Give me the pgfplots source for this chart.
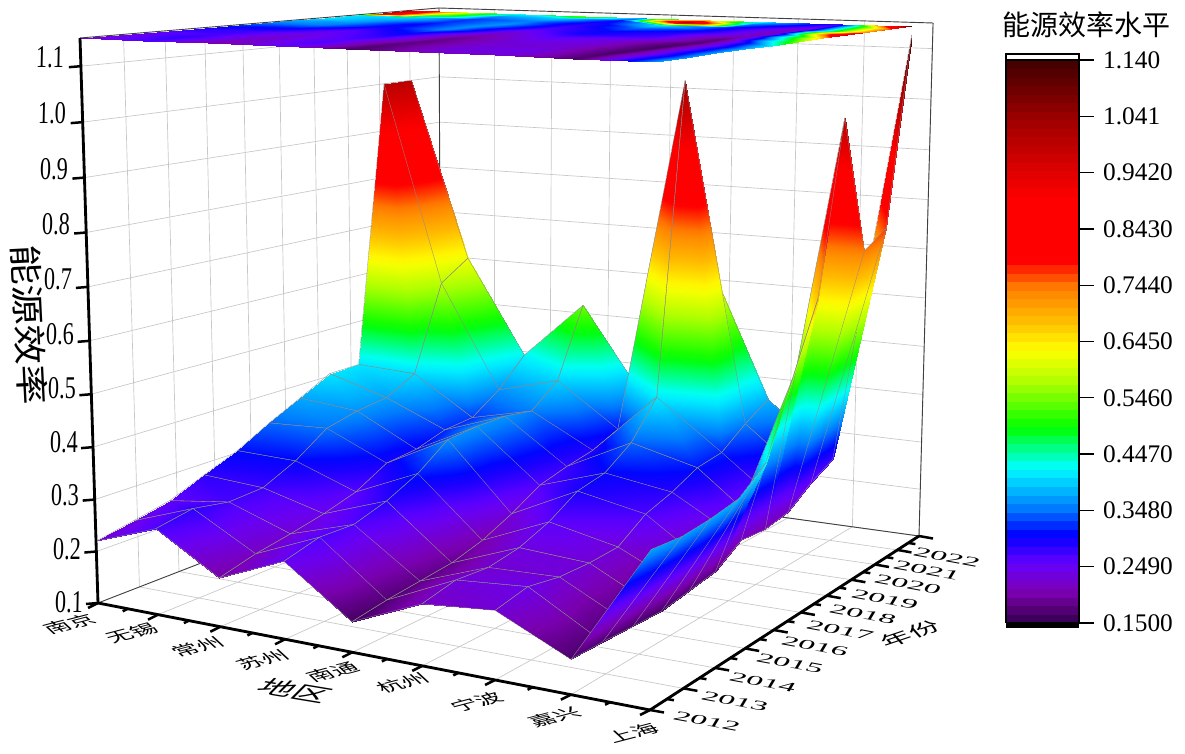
\documentclass[border=0pt]{standalone}
\usepackage{pgfplots}
\usepackage{pgfplotstable}
\usepackage{fontspec}
\pgfplotsset{compat=1.18}
\setmainfont{Liberation Serif}
\newfontfamily\cjk{Noto Sans CJK SC}
\tikzset{declare function={
 Df(\u,\v)=1-0.14579*\u+0.23686*\v;
 Dt(\u,\v)=1-0.13786*\u+0.24138*\v;
 Xf(\u,\v)=(457.24*\u+447.46*\v+98)/Df(\u,\v);
 Yf(\u,\v)=(3.49*\u-21.67*\v+603)/Df(\u,\v);
 Xt(\u,\v)=(484.7*\u+464.97*\v+80)/Dt(\u,\v);
 Yt(\u,\v)=(15.45*\u-28.07*\v+38)/Dt(\u,\v);
 Wz(\z)=(\z-0.1)/1.05;
 Sz(\z)=Wz(\z)/(Wz(\z)+(1-Wz(\z))*1.05);
 PX(\u,\v,\z)=Xf(\u,\v)+(Xt(\u,\v)-Xf(\u,\v))*Sz(\z);
 PY(\u,\v,\z)=753-(Yf(\u,\v)+(Yt(\u,\v)-Yf(\u,\v))*Sz(\z));
}}
\pgfplotstableread{
city year eff
0 2022 1.000
1 2022 0.620
2 2022 0.418
3 2022 0.540
4 2022 0.360
5 2022 0.670
6 2022 0.380
7 2022 0.270
8 2022 1.133
0 2021 1.000
1 2021 0.580
2 2021 0.360
3 2021 0.395
4 2021 0.306
5 2021 1.035
6 2021 0.350
7 2021 0.245
8 2021 0.770
0 2020 0.406
1 2020 0.400
2 2020 0.320
3 2020 0.350
4 2020 0.283
5 2020 0.410
6 2020 0.313
7 2020 0.210
8 2020 0.740
0 2019 0.405
1 2019 0.368
2 2019 0.315
3 2019 0.360
4 2019 0.272
5 2019 0.338
6 2019 0.305
7 2019 0.200
8 2019 1.000
0 2018 0.372
1 2018 0.360
2 2018 0.296
3 2018 0.360
4 2018 0.257
5 2018 0.300
6 2018 0.280
7 2018 0.205
8 2018 0.680
0 2017 0.340
1 2017 0.345
2 2017 0.290
3 2017 0.355
4 2017 0.224
5 2017 0.288
6 2017 0.262
7 2017 0.172
8 2017 0.550
0 2016 0.304
1 2016 0.300
2 2016 0.255
3 2016 0.310
4 2016 0.197
5 2016 0.253
6 2016 0.225
7 2016 0.163
8 2016 0.420
0 2015 0.277
1 2015 0.269
2 2015 0.236
3 2015 0.280
4 2015 0.180
5 2015 0.230
6 2015 0.222
7 2015 0.155
8 2015 0.380
0 2014 0.249
1 2014 0.265
2 2014 0.222
3 2014 0.260
4 2014 0.173
5 2014 0.220
6 2014 0.224
7 2014 0.157
8 2014 0.370
0 2013 0.234
1 2013 0.277
2 2013 0.210
3 2013 0.262
4 2013 0.166
5 2013 0.225
6 2013 0.235
7 2013 0.160
8 2013 0.365
0 2012 0.220
1 2012 0.264
2 2012 0.192
3 2012 0.244
4 2012 0.156
5 2012 0.211
6 2012 0.222
7 2012 0.161
8 2012 0.370
}\effdata
\pgfplotsset{
 colormap={originbase}{
  rgb255(15)=(60,0,90)
  rgb255(16)=(75,0,105)
  rgb255(20)=(125,0,180)
  rgb255(25)=(100,0,255)
  rgb255(30)=(0,0,255)
  rgb255(35)=(0,128,255)
  rgb255(42)=(0,255,255)
  rgb255(47)=(0,255,80)
  rgb255(49)=(0,255,0)
  rgb255(57)=(170,255,0)
  rgb255(63)=(255,255,0)
  rgb255(68)=(255,190,0)
  rgb255(74)=(255,128,0)
  rgb255(79)=(255,0,0)
  rgb255(90)=(255,0,0)
  rgb255(104)=(160,0,0)
  rgb255(114)=(70,0,0)
 },
 colormap={bands}{samples of colormap=(66 of originbase)},
 proj/.style={
  table/x expr={PX(\thisrow{city}/8,(\thisrow{year}-2012)*0.0905,\thisrow{eff})},
  table/y expr={PY(\thisrow{city}/8,(\thisrow{year}-2012)*0.0905,\thisrow{eff})},
  table/z expr=0,table/meta=eff,point meta=explicit},
 tripatch/.style={patch,patch type=rectangle,z buffer=default,table/row sep=\\,shader=interp},
 edgepatch/.style={patch,mesh,patch type=line,draw=black!45,line width=0.2pt,z buffer=default,table/row sep=\\},
}
\tikzset{
 gl/.style={draw=black!22,line width=0.4pt},
 thinbox/.style={draw=black!75,line width=0.55pt},
 bold/.style={draw=black,line width=1.7pt},
 tk/.style={draw=black,line width=1.5pt},
}
\newcommand\seg[7]{\draw[#1] (axis cs:{PX(#2,#3,#4)},{PY(#2,#3,#4)},0) -- (axis cs:{PX(#5,#6,#7)},{PY(#5,#6,#7)},0);}
\newcommand\lbl[4]{\begin{scope}[shift={(#1*0.6pt,{(753-#2)*0.6pt})}]\node[transform shape,cm={#3,(0,0)},inner sep=0pt] at (0,0) {#4};\end{scope}}
\newcommand\lblC[3]{\lbl{#1}{#2}{1.15,0.3,-0.6,0.55}{\cjk\fontsize{12.5}{14}\selectfont #3}}
\newcommand\lblY[3]{\lbl{#1}{#2}{1.3,-0.24,0.3,0.5}{\fontsize{15}{16}\selectfont #3}}
\newcommand\lblZ[3]{\lbl{#1}{#2}{0.7,0,0.02,1}{\fontsize{19}{20}\selectfont #3}}
% one strip of the surface: row #1 (0 = 2022), quads of the columns #2..#3
\newcommand\quadsection[3]{%
 \begingroup\let\\\relax
 \gdef\conn{}\gdef\edgs{}%
 \foreach \j in {#2,...,#3}{%
  \pgfmathtruncatemacro\qa{9*#1+\j}%
  \pgfmathtruncatemacro\qb{\qa+1}%
  \pgfmathtruncatemacro\qc{\qa+9}%
  \pgfmathtruncatemacro\qd{\qa+10}%
  \xdef\conn{\conn \qa\space\qb\space\qd\space\qd\\ \qa\space\qd\space\qc\space\qc\\ }%
  \xdef\edgs{\edgs \qa\space\qb\\ \qa\space\qc\\ \qb\space\qd\\ \qc\space\qd\\ }%
 }%
 \xdef\nextplot{\noexpand\addplot3[tripatch,proj,patch table={\conn}] table {\noexpand\effdata};
  \noexpand\addplot3[edgepatch,proj,patch table={\edgs}] table {\noexpand\effdata};}%
 \endgroup\nextplot}
\begin{document}
\begin{tikzpicture}
\useasboundingbox (0,0) rectangle (711pt,451.8pt);
\begin{axis}[
 at={(0,0)},anchor=south west,
 scale only axis,width=711pt,height=451.8pt,
 xmin=0,xmax=1185,ymin=0,ymax=753,zmin=-2,zmax=2,
 view={0}{90},hide axis,clip=false,
 colormap name=bands,
 point meta min=0.15,point meta max=1.14,
]
% walls grid
\pgfplotsinvokeforeach{1,...,10}{
 \seg{gl}{0}{#1/10}{0.1}{0}{#1/10}{1.15}
 \seg{gl}{0}{#1/10}{0.1}{1}{#1/10}{0.1}
}
\pgfplotsinvokeforeach{1,...,8}{
 \seg{gl}{#1/8}{1}{0.1}{#1/8}{1}{1.15}
 \seg{gl}{#1/8}{0}{0.1}{#1/8}{1}{0.1}
}
\pgfplotsinvokeforeach{0.2,0.3,0.4,0.5,0.6,0.7,0.8,0.9,1.0,1.1}{
 \seg{gl}{0}{0}{#1}{0}{1}{#1}
 \seg{gl}{0}{1}{#1}{1}{1}{#1}
}
% box
\seg{thinbox}{0}{0}{1.15}{0}{1}{1.15}
\seg{thinbox}{0}{1}{1.15}{1}{1}{1.15}
\seg{thinbox}{0}{1}{0.1}{0}{1}{1.15}
\seg{thinbox}{1}{1}{0.1}{1}{1}{1.15}
\seg{thinbox}{0}{0}{0.1}{0}{1}{0.1}
\seg{thinbox}{0}{1}{0.1}{1}{1}{0.1}
% projection on the top plane
\addplot3[surf,shader=interp,z buffer=default,mesh/rows=11,mesh/cols=9,point meta=\thisrow{eff}]
 table[x expr={PX(\thisrow{city}/8,(\thisrow{year}-2012)*0.0905,1.15)},
       y expr={PY(\thisrow{city}/8,(\thisrow{year}-2012)*0.0905,1.15)},z expr=0] {\effdata};
% surface, back to front
\quadsection{0}{0}{6}\quadsection{0}{7}{7}
\quadsection{1}{0}{6}\quadsection{1}{7}{7}
\quadsection{2}{0}{6}\quadsection{2}{7}{7}
\quadsection{3}{0}{6}\quadsection{3}{7}{7}
\quadsection{4}{0}{6}\quadsection{4}{7}{7}
\quadsection{5}{0}{6}\quadsection{5}{7}{7}
\quadsection{6}{0}{6}\quadsection{6}{7}{7}
\quadsection{7}{0}{6}\quadsection{7}{7}{7}
\quadsection{8}{0}{6}\quadsection{8}{7}{7}
\quadsection{9}{0}{6}\quadsection{9}{7}{7}
% axes
\seg{bold}{0}{0}{0.1}{0}{0}{1.15}
\seg{bold}{0}{0}{0.1}{1}{0}{0.1}
\seg{bold}{1}{0}{0.1}{1}{1}{0.1}
\pgfplotsinvokeforeach{0.1,0.2,0.3,0.4,0.5,0.6,0.7,0.8,0.9,1.0,1.1}{
 \draw[tk] (axis cs:{PX(0,0,#1)},{PY(0,0,#1)},0) -- (axis cs:{PX(0,0,#1)-12},{PY(0,0,#1)-1},0);
}
\pgfplotsinvokeforeach{0,...,8}{
 \draw[tk] (axis cs:{PX(#1/8,0,0.1)},{PY(#1/8,0,0.1)},0) -- (axis cs:{PX(#1/8,0,0.1)-10},{PY(#1/8,0,0.1)-5},0);
}
\pgfplotsinvokeforeach{0,...,7}{
 \draw[tk] (axis cs:{PX((#1+0.5)/8,0,0.1)},{PY((#1+0.5)/8,0,0.1)},0) -- (axis cs:{PX((#1+0.5)/8,0,0.1)-5},{PY((#1+0.5)/8,0,0.1)-2.5},0);
}
\pgfplotsinvokeforeach{0,...,10}{
 \draw[tk] (axis cs:{PX(1,#1/10,0.1)},{PY(1,#1/10,0.1)},0) -- (axis cs:{PX(1,#1/10,0.1)+14},{PY(1,#1/10,0.1)-2.5},0);
}
\pgfplotsinvokeforeach{0,...,9}{
 \draw[tk] (axis cs:{PX(1,(#1+0.5)/10,0.1)},{PY(1,(#1+0.5)/10,0.1)},0) -- (axis cs:{PX(1,(#1+0.5)/10,0.1)+7},{PY(1,(#1+0.5)/10,0.1)-1.2},0);
}
\end{axis}
% colour bar
\begin{axis}[
 at={(603.6pt,78pt)},anchor=south west,
 scale only axis,width=43.8pt,height=337.8pt,
 xmin=0,xmax=1,ymin=0.15,ymax=1.14,
 view={0}{90},
 colormap name=bands,
 point meta min=0.15,point meta max=1.14,
 xtick=\empty,
 ytick={0.15,0.249,0.348,0.447,0.546,0.645,0.744,0.843,0.942,1.041,1.14},
 yticklabels={0.1500,0.2490,0.3480,0.4470,0.5460,0.6450,0.7440,0.8430,0.9420,1.041,1.140},
 ytick pos=right,yticklabel pos=right,
 y tick label style={font=\fontsize{15.2}{16}\selectfont,xshift=2pt},
 tick align=outside,major tick length=9pt,
 ytick style={draw=black,line width=0.8pt},
 axis line style={draw=black,line width=1pt},
 axis on top,
]
\addplot3[surf,shader=interp,colormap access=piecewise constant,mesh/rows=2,mesh/cols=2,point meta=y] coordinates {
 (0,0.15,0) (1,0.15,0)
 (0,1.14,0) (1,1.14,0)
};
\end{axis}
\fill[black] (603.6pt,{(753-628)*0.6pt}) rectangle (647.4pt,{(753-623)*0.6pt});
\draw[black,line width=0.9pt] (603.6pt,{(753-60)*0.6pt}) rectangle (647.4pt,{(753-54)*0.6pt});
\lbl{1086}{25}{1,0,0,1}{\cjk\fontsize{16.8}{18}\selectfont 能源效率水平}
% z ticks
\lblZ{50}{57}{1.1}
\lblZ{52}{113}{1.0}
\lblZ{54}{169}{0.9}
\lblZ{56}{224}{0.8}
\lblZ{58}{279}{0.7}
\lblZ{60}{334}{0.6}
\lblZ{62}{388}{0.5}
\lblZ{64}{442}{0.4}
\lblZ{65}{495}{0.3}
\lblZ{67}{549}{0.2}
\lblZ{69}{602}{0.1}
% z title
\lbl{29}{325}{0.06,-1.2,1,0.05}{\cjk\fontsize{20}{22}\selectfont 能源效率}
% city labels
\lblC{70}{624}{南京}
\lblC{132}{633}{无锡}
\lblC{198}{647}{常州}
\lblC{263}{660}{苏州}
\lblC{333}{672}{南通}
\lblC{403}{683}{杭州}
\lblC{477}{702}{宁波}
\lblC{555}{717}{嘉兴}
\lblC{633}{733}{上海}
\lbl{295}{691}{1.2,-0.2,0.6,0.6}{\cjk\fontsize{17}{18}\selectfont 地区}
\lbl{910}{634}{1.2,0.4,-0.5,0.55}{\cjk\fontsize{14}{16}\selectfont 年份}
% year labels
\lblY{707}{721}{2012}
\lblY{735}{701}{2013}
\lblY{763}{682}{2014}
\lblY{790}{663}{2015}
\lblY{815}{646}{2016}
\lblY{840}{630}{2017}
\lblY{863}{614}{2018}
\lblY{885}{599}{2019}
\lblY{908}{584}{2020}
\lblY{927}{570}{2021}
\lblY{947}{557}{2022}
\end{tikzpicture}
\end{document}
